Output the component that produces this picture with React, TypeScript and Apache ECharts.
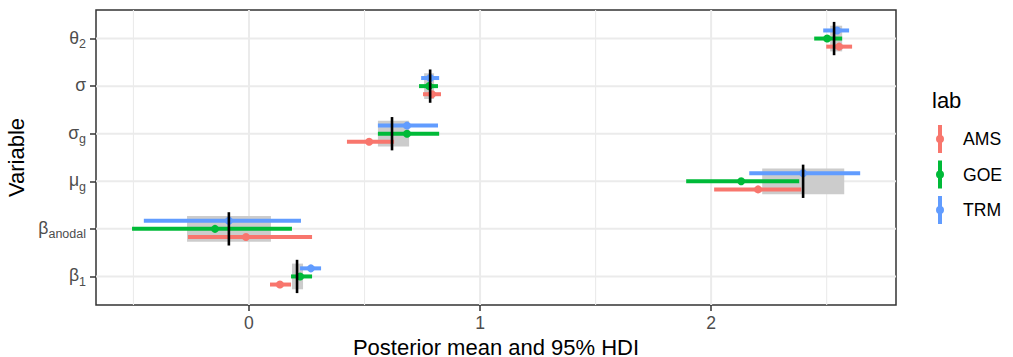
import React, { useEffect, useRef } from "react";
import * as echarts from "echarts";

// Variables (bottom to top), y positions 1..6
const variableMain = ["β", "β", "μ", "σ", "σ", "θ"];
const variableSub = ["1", "anodal", "g", "g", "", "2"];
const yPositions = [1, 2, 3, 4, 5, 6];

const labs = ["AMS", "GOE", "TRM"];
const labColors = ["#F8766D", "#00BA38", "#619CFF"];
const labDodge = [-0.17, 0, 0.17];

// Posterior means and 95% HDI, per lab (order: β1, βanodal, μg, σg, σ, θ2)
const amsMean = [0.134, -0.013, 2.203, 0.52, 0.792, 2.554];
const amsLow = [0.091, -0.264, 2.013, 0.424, 0.753, 2.498];
const amsHigh = [0.182, 0.273, 2.39, 0.628, 0.831, 2.61];

const goeMean = [0.221, -0.147, 2.13, 0.684, 0.779, 2.502];
const goeLow = [0.182, -0.506, 1.892, 0.558, 0.736, 2.446];
const goeHigh = [0.273, 0.186, 2.381, 0.823, 0.818, 2.567];

const trmMean = [0.268, -0.087, 2.398, 0.684, 0.784, 2.545];
const trmLow = [0.221, -0.455, 2.165, 0.558, 0.745, 2.485];
const trmHigh = [0.312, 0.225, 2.645, 0.818, 0.823, 2.597];

// Reference band (grey) and reference value (black line)
const refLow = [0.186, -0.268, 2.221, 0.558, 0.758, 2.515];
const refHigh = [0.234, 0.095, 2.576, 0.693, 0.801, 2.567];
const refValue = [0.208, -0.087, 2.398, 0.619, 0.784, 2.532];

const xTicks = [0, 1, 2];
const xMinorGrid = [-0.5, 0.5, 1.5, 2.5];

const labMeans = [amsMean, goeMean, trmMean];
const labLows = [amsLow, goeLow, trmLow];
const labHighs = [amsHigh, goeHigh, trmHigh];

const FONT = "Liberation Sans, Arial, Helvetica, sans-serif";
const X_MIN = -0.662;
const X_MAX = 2.8;
const Y_MIN = 0.4;
const Y_MAX = 6.6;

const legendIcon =
  "path://M2,0 L6,0 L6,28 L2,28 Z M0,14 A4,4 0 1 1 8,14 A4,4 0 1 1 0,14 Z";

export default function App() {
  const ref = useRef<HTMLDivElement>(null);

  useEffect(() => {
    if (!ref.current) return;
    const chart = echarts.init(ref.current, undefined, { renderer: "svg" });

    const gridSeries: any = {
      type: "custom",
      name: "grid",
      silent: true,
      z: 0,
      data: [
        ...xTicks.map((x) => [x, 0, 2]),
        ...xMinorGrid.map((x) => [x, 0, 1.1]),
        ...yPositions.map((y) => [y, 1, 2]),
      ],
      renderItem: (params: any, api: any) => {
        const v = api.value(0);
        const dir = api.value(1);
        const w = api.value(2);
        let p1, p2;
        if (dir === 0) {
          p1 = api.coord([v, Y_MIN]);
          p2 = api.coord([v, Y_MAX]);
        } else {
          p1 = api.coord([X_MIN, v]);
          p2 = api.coord([X_MAX, v]);
        }
        return {
          type: "line",
          shape: { x1: p1[0], y1: p1[1], x2: p2[0], y2: p2[1] },
          style: { stroke: "#EBEBEB", lineWidth: w },
        };
      },
      encode: { x: 0, y: 0 },
    };

    const refBandSeries: any = {
      type: "custom",
      name: "refBand",
      silent: true,
      z: 1,
      data: yPositions.map((y, i) => [refLow[i], refHigh[i], y]),
      encode: { x: [0, 1], y: 2 },
      renderItem: (params: any, api: any) => {
        const y = api.value(2);
        const p1 = api.coord([api.value(0), y + 0.27]);
        const p2 = api.coord([api.value(1), y - 0.27]);
        return {
          type: "rect",
          shape: { x: p1[0], y: p1[1], width: p2[0] - p1[0], height: p2[1] - p1[1] },
          style: { fill: "#CCCCCC" },
        };
      },
    };

    const errorSeries: any[] = labs.map((lab, li) => ({
      type: "custom",
      name: lab,
      z: 2,
      data: yPositions.map((y, i) => [labLows[li][i], labHighs[li][i], y + labDodge[li]]),
      encode: { x: [0, 1], y: 2 },
      itemStyle: { color: labColors[li] },
      renderItem: (params: any, api: any) => {
        const y = api.value(2);
        const p1 = api.coord([api.value(0), y]);
        const p2 = api.coord([api.value(1), y]);
        return {
          type: "line",
          shape: { x1: p1[0], y1: p1[1], x2: p2[0], y2: p2[1] },
          style: { stroke: labColors[li], lineWidth: 4 },
        };
      },
    }));

    const pointSeries: any[] = labs.map((lab, li) => ({
      type: "scatter",
      name: lab,
      z: 3,
      symbol: "circle",
      symbolSize: 8,
      itemStyle: { color: labColors[li], opacity: 1 },
      data: yPositions.map((y, i) => [labMeans[li][i], y + labDodge[li]]),
    }));

    const refLineSeries: any = {
      type: "custom",
      name: "refLine",
      silent: true,
      z: 4,
      data: yPositions.map((y, i) => [refValue[i], y]),
      encode: { x: 0, y: 1 },
      renderItem: (params: any, api: any) => {
        const y = api.value(1);
        const p1 = api.coord([api.value(0), y + 0.35]);
        const p2 = api.coord([api.value(0), y - 0.35]);
        return {
          type: "line",
          shape: { x1: p1[0], y1: p1[1], x2: p2[0], y2: p2[1] },
          style: { stroke: "#000000", lineWidth: 2.6 },
        };
      },
    };

    const option: any = {
      animation: false,
      backgroundColor: "#FFFFFF",
      textStyle: { fontFamily: FONT },
      grid: {
        left: 96,
        right: 117,
        top: 10,
        bottom: 52,
        show: true,
        borderColor: "#333333",
        borderWidth: 1.5,
        backgroundColor: "transparent",
        containLabel: false,
        outerBoundsMode: "none",
      },
      xAxis: {
        type: "value",
        min: X_MIN,
        max: X_MAX,
        name: "Posterior mean and 95% HDI",
        nameLocation: "middle",
        nameGap: 31,
        nameTextStyle: { fontSize: 22, color: "#000000", fontFamily: FONT },
        axisLine: { show: false, onZero: false },
        splitLine: { show: false },
        axisTick: {
          show: true,
          customValues: xTicks,
          length: 6,
          lineStyle: { color: "#333333", width: 1.5 },
        },
        axisLabel: {
          customValues: xTicks,
          color: "#4D4D4D",
          fontSize: 17.6,
          margin: 9,
          fontFamily: FONT,
        },
      },
      yAxis: {
        type: "value",
        min: Y_MIN,
        max: Y_MAX,
        name: "Variable",
        nameLocation: "middle",
        nameGap: 67,
        nameTextStyle: { fontSize: 22, color: "#000000", fontFamily: FONT },
        axisLine: { show: false, onZero: false },
        splitLine: { show: false },
        axisTick: {
          show: true,
          customValues: yPositions,
          length: 6,
          lineStyle: { color: "#333333", width: 1.5 },
        },
        axisLabel: {
          customValues: yPositions,
          margin: 10,
          formatter: (v: number) => {
            const i = yPositions.indexOf(Math.round(v));
            if (i < 0) return "";
            const sub = variableSub[i];
            return sub ? `{m|${variableMain[i]}}{s|${sub}}` : `{m|${variableMain[i]}}`;
          },
          rich: {
            m: {
              fontSize: 17.6,
              color: "#4D4D4D",
              fontFamily: FONT,
              lineHeight: 20,
              verticalAlign: "top",
            },
            s: {
              fontSize: 12.5,
              color: "#4D4D4D",
              fontFamily: FONT,
              lineHeight: 14,
              verticalAlign: "top",
              padding: [9, 0, 0, 0],
            },
          },
        },
      },
      legend: {
        show: true,
        orient: "vertical",
        left: 931,
        top: 120,
        itemWidth: 36,
        itemHeight: 28,
        itemGap: 7.5,
        selectedMode: false,
        textStyle: { fontSize: 17.6, color: "#000000", fontFamily: FONT },
        data: labs.map((lab, li) => ({ name: lab, icon: legendIcon, itemStyle: { color: labColors[li] } })),
      },
      graphic: [
        {
          type: "text",
          left: 932,
          top: 89,
          style: { text: "lab", fontSize: 22, fill: "#000000", fontFamily: FONT },
        },
      ],
      series: [gridSeries, refBandSeries, ...errorSeries, ...pointSeries, refLineSeries],
    };

    chart.setOption(option);
    return () => {
      chart.dispose();
    };
  }, []);

  return (
    <div
      ref={ref}
      style={{ position: "fixed", left: 0, top: 0, width: 1013, height: 357, background: "#fff" }}
    />
  );
}
